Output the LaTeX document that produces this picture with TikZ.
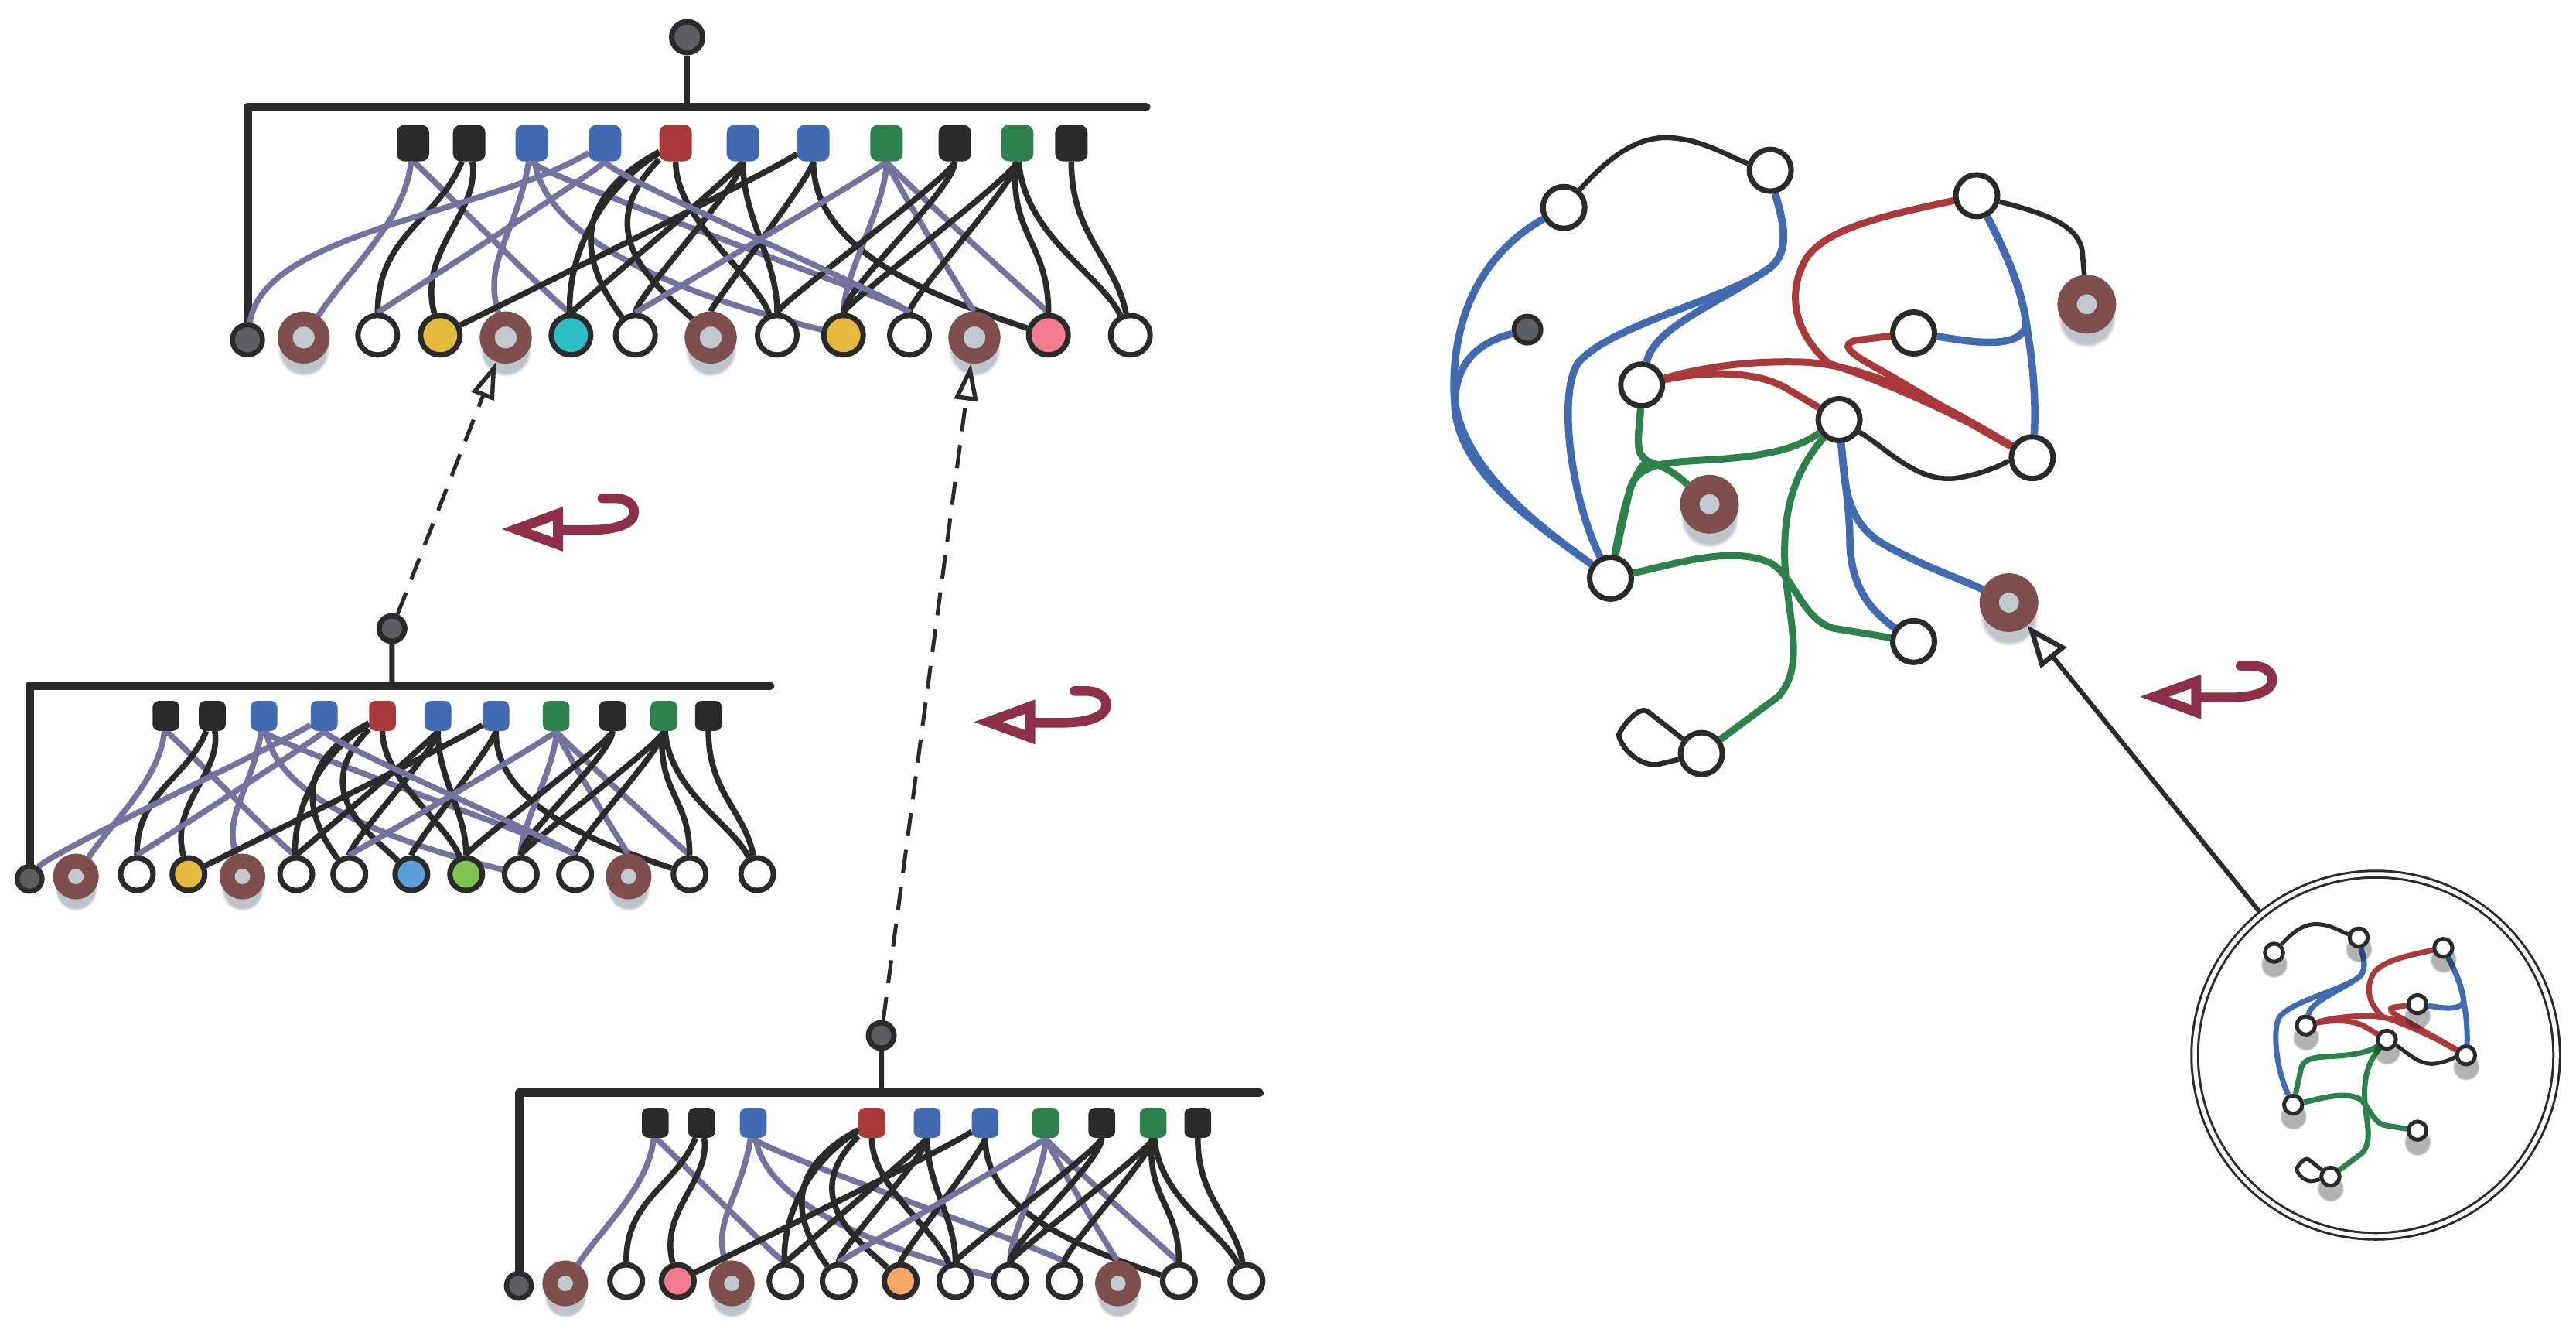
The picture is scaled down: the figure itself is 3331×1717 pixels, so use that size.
\documentclass[tikz,border=0pt]{standalone}
\usetikzlibrary{arrows.meta,shadows}
\pgfdeclarelayer{bg}
\pgfsetlayers{bg,main}
\definecolor{ink}{HTML}{2A2A2A}
\definecolor{lav}{HTML}{7473A0}
\definecolor{cblue}{HTML}{416AB0}
\definecolor{cred}{HTML}{A9393B}
\definecolor{cgreen}{HTML}{2D814A}
\definecolor{ringc}{HTML}{7F4F4D}
\definecolor{hole}{HTML}{C2C8CF}
\definecolor{dotgrey}{HTML}{5B5F64}
\definecolor{cyellow}{HTML}{E6B941}
\definecolor{cteal}{HTML}{2BBFC5}
\definecolor{cpink}{HTML}{F07C8E}
\definecolor{clblue}{HTML}{5B9FD8}
\definecolor{clgreen}{HTML}{7EC24F}
\definecolor{corange}{HTML}{F6A76A}
\definecolor{symred}{HTML}{8E3049}
\definecolor{shadowc}{HTML}{8A95A3}
\tikzset{
  tbox/.style={rectangle, rounded corners=\tbr pt, minimum width=\tbw pt, minimum height=\tbh pt, inner sep=0pt, fill=#1},
  tlf/.style={circle, draw=ink, line width=7pt, fill=#1, minimum size=\tleaf pt, inner sep=0pt},
  trg/.style={circle, draw=ringc, line width=19.5pt, fill=hole, minimum size=\tring pt, inner sep=0pt, yshift=-3pt,
     circular drop shadow={shadow xshift=0pt, shadow yshift=-12pt, shadow scale=1.4, fill=shadowc, opacity=0.55}},
  tgl/.style={circle, draw=ink, line width=6.5pt, fill=dotgrey, minimum size=\tgl pt, inner sep=0pt, yshift=-6pt},
  troot/.style={circle, draw=ink, line width=7pt, fill=dotgrey, minimum size=\troot pt, inner sep=0pt},
  inkE/.style={draw=ink, line width=7.5pt},
  lavE/.style={draw=lav, line width=7.5pt},
  gnode/.style={circle, draw=ink, line width=7pt, fill=white, minimum size=54pt, inner sep=0pt},
  gring/.style={circle, draw=ringc, line width=25pt, fill=hole, minimum size=51pt, inner sep=0pt,
     circular drop shadow={shadow xshift=0pt, shadow yshift=-12pt, shadow scale=1.5, fill=shadowc, opacity=0.55}},
  gdot/.style={circle, draw=ink, line width=6pt, fill=dotgrey, minimum size=35pt, inner sep=0pt},
  inode/.style={circle, draw=ink, line width=5pt, fill=white, minimum size=23.5pt, inner sep=0pt,
     circular drop shadow={shadow xshift=0pt, shadow yshift=-10pt, shadow scale=1.5, fill=black, opacity=0.3}},
  dashconn/.style={draw=ink, line width=5pt, dash pattern=on 30pt off 18pt,
     -{Triangle[open, length=48pt, width=30pt, line width=5.5pt]}},
}
% sizes of one tree
\newcommand\treesizes[1]{%
  \pgfmathsetmacro\tbw{42*#1}\pgfmathsetmacro\tbh{47*#1}\pgfmathsetmacro\tbr{10*#1}%
  \pgfmathsetmacro\tleaf{51*#1}\pgfmathsetmacro\tring{48*#1}%
  \pgfmathsetmacro\tgl{39*#1}\pgfmathsetmacro\troot{40*#1}}
\newcommand\treeboxes[2]{%
  \foreach \xx/\fc/\k in {#2}{\edef\tmpnode{\noexpand\node[tbox=\fc] (#1b\k) at (\xx,47) {};}\tmpnode}}
\newcommand\treeleaves[2]{%
  \foreach \xx/\st/\fc [count=\i] in {#2}{\edef\tmpnode{\noexpand\node[\st=\fc] (#1l\i) at (\xx,295.3) {};}\tmpnode}}
\newcommand\treebar[1]{%
  \draw[ink, line width=11pt, line join=round, line cap=round] (#1l1.center) -- (0,0) -- (1162,0);
  \draw[ink, line width=7pt] (#1root) -- (568.6,0);}
\newcommand\te[6]{\draw[#4] (#1b#2) .. controls +(#5) and +(#6) .. (#1l#3);}
\newcommand\treeedges[1]{%
  \te{#1}{1}{2}{lavE}{-10,100}{60,-90}
  \te{#1}{1}{6}{lavE}{0,20}{0,-20}
  \te{#1}{2}{3}{inkE}{-40,100}{0,-130}
  \te{#1}{2}{4}{inkE}{15,90}{-30,-110}
  \te{#1}{3}{5}{lavE}{-20,120}{-30,-100}
  \te{#1}{3}{10}{lavE}{20,130}{-200,-50}
  \te{#1}{3}{11}{lavE}{0,40}{0,-40}
  \te{#1}{5}{6}{inkE}{-100,60}{-5,-100}
  \te{#1}{5}{7}{inkE}{-150,80}{-60,-80}
  \te{#1}{5}{8}{inkE}{-120,120}{-60,-60}
  \te{#1}{5}{9}{inkE}{0,100}{-30,-80}
  \te{#1}{6}{6}{inkE}{0,30}{0,-30}
  \te{#1}{6}{7}{inkE}{0,50}{0,-50}
  \te{#1}{6}{9}{inkE}{0,100}{0,-100}
  \te{#1}{7}{4}{inkE}{-60,40}{60,-30}
  \te{#1}{7}{8}{inkE}{0,40}{0,-40}
  \te{#1}{7}{13}{inkE}{0,140}{-150,-50}
  \te{#1}{8}{7}{lavE}{0,30}{0,-30}
  \te{#1}{8}{10}{lavE}{0,80}{0,-80}
  \te{#1}{8}{12}{lavE}{0,30}{0,-30}
  \te{#1}{8}{13}{lavE}{0,30}{0,-30}
  \te{#1}{9}{9}{inkE}{0,40}{0,-40}
  \te{#1}{9}{10}{inkE}{0,60}{0,-60}
  \te{#1}{10}{10}{inkE}{0,40}{0,-40}
  \te{#1}{10}{11}{inkE}{0,50}{0,-50}
  \te{#1}{10}{13}{inkE}{-10,120}{0,-120}
  \te{#1}{10}{14}{inkE}{10,120}{-40,-80}
  \te{#1}{11}{14}{inkE}{0,120}{-20,-100}}
% edges shared by the big graph and the inset
\newcommand\gshared[1]{%
  \draw[ek] (#1N1) .. controls (2070,215) and (2110,175) .. (2160,178) .. controls (2205,181) and (2240,205) .. (#1N2);
  \draw[ek] (#1N6) .. controls (2440,580) and (2480,625) .. (2530,618) .. controls (2570,612) and (2600,595) .. (#1N7);
  \draw[ek] (#1N10) -- (2131,920) .. controls (2120,912) and (2100,935) .. (2093,950) .. controls (2098,972) and (2125,992) .. (2145,988) -- (#1N10);
  \draw[eb] (#1N2) .. controls (2300,270) and (2320,320) .. (2290,345) .. controls (2240,385) and (2080,420) .. (2040,470) .. controls (2015,510) and (2030,640) .. (#1N8);
  \draw[eb] (#1N2) .. controls (2300,270) and (2320,320) .. (2290,345) .. controls (2230,390) and (2140,420) .. (#1N5);
  \draw[eb] (#1N3) .. controls (2590,320) and (2615,370) .. (2622,430) .. controls (2632,490) and (2632,540) .. (#1N7);
  \draw[eb] (#1N4) .. controls (2540,440) and (2612,455) .. (2620,420) .. controls (2615,370) and (2590,320) .. (#1N3);
  \draw[er] (#1N5) .. controls (2200,475) and (2260,466) .. (2330,468) .. controls (2430,472) and (2540,540) .. (#1N7);
  \draw[er] (#1N3) .. controls (2440,278) and (2360,295) .. (2335,335) .. controls (2310,380) and (2320,430) .. (2365,470) .. controls (2430,490) and (2540,540) .. (#1N7);
  \draw[er] (#1N4) -- (2400,440) .. controls (2380,445) and (2390,455) .. (2420,472) .. controls (2480,505) and (2550,550) .. (#1N7);
  \draw[er] (#1N5) .. controls (2200,480) and (2270,478) .. (2310,502) -- (#1N6);
  \draw[eg] (#1N6) .. controls (2330,575) and (2300,590) .. (2200,595) .. controls (2150,598) and (2112,600) .. (2106,640) -- (#1N8);
  \draw[eg] (#1N6) .. controls (2320,610) and (2305,660) .. (2308,730) .. controls (2312,800) and (2335,860) .. (2300,900) -- (#1N10);
  \draw[eg] (#1N8) .. controls (2170,728) and (2240,705) .. (2290,728) .. controls (2320,745) and (2330,800) .. (2370,812) -- (#1N9);}
% the red return symbol
\newcommand\retsym[1]{%
  \begin{scope}[shift={(#1)}]
    \fill[symred, even odd rule] (0,0) -- (79,-29) -- (79,29) -- cycle (37,0) -- (66,-10.5) -- (66,10.5) -- cycle;
    \draw[symred, line width=12.5pt, line cap=round] (74,1) -- (115,1) .. controls (150,1) and (171,-8) .. (171,-22) .. controls (171,-34) and (158,-40) .. (145,-40) -- (130,-40);
  \end{scope}}
\begin{document}
\begin{tikzpicture}[x=1pt, y=-1pt]
\useasboundingbox (0,0) rectangle (3331,1717);
\begin{pgfonlayer}{bg}
  \fill[white] (0,0) rectangle (3331,1717);
\end{pgfonlayer}

% ---------- top tree ----------
\begin{scope}[shift={(320,138)}]
  \treesizes{1}
  \node[troot] (troot) at (568.6,-90) {};
  \treeboxes{t}{214/ink/1, 286.7/ink/2, 367.7/cblue/3, 462.3/cblue/4, 553.7/cred/5, 640.7/cblue/6, 731.7/cblue/7, 826.3/cgreen/8, 914.7/ink/9, 995.3/cgreen/10, 1065.3/ink/11}
  \treeleaves{t}{0/tgl/dotgrey, 72.7/trg/ringc, 168.3/tlf/white, 249.3/tlf/cyellow, 334/trg/ringc, 418.3/tlf/cteal, 501.7/tlf/white, 599/trg/ringc, 685/tlf/white, 770.7/tlf/cyellow, 856/tlf/white, 940/trg/ringc, 1035.7/tlf/cpink, 1141.7/tlf/white}
  \begin{pgfonlayer}{bg}
    \treebar{t}
    \treeedges{t}
    \te{t}{4}{1}{lavE}{-150,90}{20,-140}
    \te{t}{4}{3}{lavE}{0,30}{0,-30}
    \te{t}{4}{11}{lavE}{0,40}{0,-40}
  \end{pgfonlayer}
\end{scope}

% ---------- middle tree ----------
\begin{scope}[shift={(38.3,886.7)}, scale=0.824]
  \treesizes{0.824}
  \node[troot] (mroot) at (568.6,-90) {};
  \treeboxes{m}{214/ink/1, 286.7/ink/2, 367.7/cblue/3, 462.3/cblue/4, 553.7/cred/5, 640.7/cblue/6, 731.7/cblue/7, 826.3/cgreen/8, 914.7/ink/9, 995.3/cgreen/10, 1065.3/ink/11}
  \treeleaves{m}{0/tgl/dotgrey, 72.7/trg/ringc, 168.3/tlf/white, 249.3/tlf/cyellow, 334/trg/ringc, 418.3/tlf/white, 501.7/tlf/white, 599/tlf/clblue, 685/tlf/clgreen, 770.7/tlf/white, 856/tlf/white, 940/trg/ringc, 1035.7/tlf/white, 1141.7/tlf/white}
  \begin{pgfonlayer}{bg}
    \treebar{m}
    \treeedges{m}
    \te{m}{4}{1}{lavE}{-60,40}{30,-40}
    \te{m}{4}{3}{lavE}{0,30}{0,-30}
    \te{m}{4}{11}{lavE}{0,40}{0,-40}
  \end{pgfonlayer}
\end{scope}

% ---------- bottom tree ----------
\begin{scope}[shift={(671,1412.7)}, scale=0.824]
  \treesizes{0.824}
  \node[troot] (broot) at (568.6,-90) {};
  \treeboxes{b}{214/ink/1, 286.7/ink/2, 367.7/cblue/3, 553.7/cred/5, 640.7/cblue/6, 731.7/cblue/7, 826.3/cgreen/8, 914.7/ink/9, 995.3/cgreen/10, 1065.3/ink/11}
  \treeleaves{b}{0/tgl/dotgrey, 72.7/trg/ringc, 168.3/tlf/white, 249.3/tlf/cpink, 334/trg/ringc, 418.3/tlf/white, 501.7/tlf/white, 599/tlf/corange, 685/tlf/white, 770.7/tlf/white, 856/tlf/white, 940/trg/ringc, 1035.7/tlf/white, 1141.7/tlf/white}
  \begin{pgfonlayer}{bg}
    \treebar{b}
    \treeedges{b}
  \end{pgfonlayer}
\end{scope}

% dashed connectors between trees
\draw[dashconn] (mroot) -- (tl5);
\draw[dashconn] (broot) -- (tl12);

% ---------- right graph ----------
\begin{scope}[ek/.style={draw=ink, line width=6.5pt}, eb/.style={draw=cblue, line width=9.5pt},
              er/.style={draw=cred, line width=9pt}, eg/.style={draw=cgreen, line width=9pt}]
  \node[gnode] (gN1) at (2022.2,268.2) {};
  \node[gnode] (gN2) at (2289.1,220.1) {};
  \node[gnode] (gN3) at (2556,252.9) {};
  \node[gring] (gR1) at (2698.4,393.3) {};
  \node[gdot]  (gG)  at (1975.1,426.1) {};
  \node[gnode] (gN4) at (2474.5,430.5) {};
  \node[gnode] (gN5) at (2122.7,497.7) {};
  \node[gnode] (gN6) at (2378.1,542.5) {};
  \node[gnode] (gN7) at (2627.8,591.7) {};
  \node[gring] (gR2) at (2210.5,651.8) {};
  \node[gnode] (gN8) at (2082.5,747.4) {};
  \node[gring] (gR3) at (2597.7,779) {};
  \node[gnode] (gN9) at (2474.5,829.3) {};
  \node[gnode] (gN10) at (2200.1,974.1) {};
  \begin{pgfonlayer}{bg}
    \gshared{g}
    \draw[ek] (gN3) .. controls (2640,275) and (2692,290) .. (2693,330) -- (gR1);
    \draw[eb] (gN1) .. controls (1930,320) and (1880,390) .. (1880,500) .. controls (1880,600) and (1990,680) .. (gN8);
    \draw[eb] (gG) .. controls (1915,442) and (1883,465) .. (1881,520) .. controls (1882,610) and (1990,680) .. (gN8);
    \draw[eb] (gN6) .. controls (2385,620) and (2385,670) .. (2430,700) .. controls (2480,730) and (2540,750) .. (gR3);
    \draw[eb] (gN6) .. controls (2385,620) and (2392,660) .. (2392,700) .. controls (2393,760) and (2420,790) .. (gN9);
    \draw[eg] (gN5) .. controls (2120,560) and (2112,585) .. (2130,596) .. controls (2112,610) and (2100,650) .. (gN8);
    \draw[eg] (gN5) .. controls (2120,560) and (2112,585) .. (2130,596) .. controls (2160,605) and (2175,620) .. (gR2);
  \end{pgfonlayer}
\end{scope}

% ---------- inset ----------
\node[circle, draw=ink, line width=3pt, double=white, double distance=5.5pt, minimum size=468pt, inner sep=0pt] (inset) at (3072,1364) {};
\begin{scope}[shift={(2111.4,1121.6)}, scale=0.41,
              ek/.style={draw=ink, line width=5pt}, eb/.style={draw=cblue, line width=7pt},
              er/.style={draw=cred, line width=7pt}, eg/.style={draw=cgreen, line width=7pt}]
  \node[inode] (iN1) at (2022.2,268.2) {};
  \node[inode] (iN2) at (2289.1,220.1) {};
  \node[inode] (iN3) at (2556,252.9) {};
  \node[inode] (iN4) at (2474.5,430.5) {};
  \node[inode] (iN5) at (2122.7,497.7) {};
  \node[inode] (iN6) at (2378.1,542.5) {};
  \node[inode] (iN7) at (2627.8,591.7) {};
  \node[inode] (iN8) at (2082.5,747.4) {};
  \node[inode] (iN9) at (2474.5,829.3) {};
  \node[inode] (iN10) at (2200.1,974.1) {};
  \begin{pgfonlayer}{bg}
    \gshared{i}
  \end{pgfonlayer}
\end{scope}
\draw[draw=ink, line width=6pt, shorten <=4pt, -{Triangle[open, length=54pt, width=42pt, line width=6.5pt]}] (inset) -- (gR3);

% ---------- red return symbols ----------
\retsym{649,684}
\retsym{1259.5,933.3}
\retsym{2767.3,900.7}
\end{tikzpicture}
\end{document}
